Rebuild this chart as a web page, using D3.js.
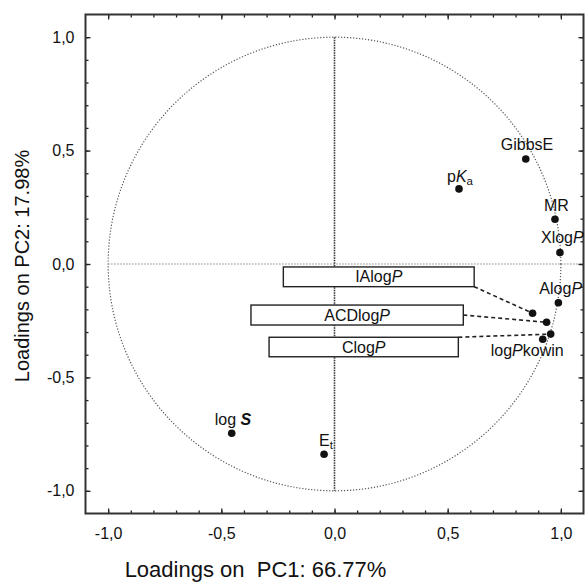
<!DOCTYPE html>
<html>
<head>
<meta charset="utf-8">
<script src="https://cdn.jsdelivr.net/npm/d3@7"></script>
<style>
  html, body { margin: 0; padding: 0; background: #fff; }
  svg { display: block; font-family: "Liberation Sans", Arial, sans-serif; }
</style>
</head>
<body>
<svg id="chart" width="586" height="582"></svg>
<script>
// ---- Data ----
const variables = ["GibbsE", "pKa", "MR", "XlogP", "AlogP", "IAlogP", "ACDlogP", "ClogP", "logPkowin", "logS", "Et"];
const pc1 = [0.845, 0.550, 0.974, 0.996, 0.989, 0.875, 0.937, 0.955, 0.920, -0.454, -0.046];
const pc2 = [0.463, 0.331, 0.197, 0.050, -0.171, -0.217, -0.257, -0.309, -0.332, -0.746, -0.839];
const xTickLabels = ["-1,0", "-0,5", "0,0", "0,5", "1,0"];
const yTickLabels = ["-1,0", "-0,5", "0,0", "0,5", "1,0"];
const xTitle = "Loadings on  PC1: 66.77%";
const yTitle = "Loadings on PC2: 17.98%";

// label rich-text parts: [text, style]  (i = italic, sub = subscript, bi = bold italic)
const labelParts = {
  GibbsE: [["GibbsE", ""]],
  pKa: [["p", ""], ["K", "i"], ["a", "sub"]],
  MR: [["MR", ""]],
  XlogP: [["Xlog", ""], ["P", "i"]],
  AlogP: [["Alog", ""], ["P", "i"]],
  logPkowin: [["log", ""], ["P", "i"], ["kowin", ""]],
  logS: [["log ", ""], ["S", "bi"]],
  Et: [["E", ""], ["t", "sub"]],
  IAlogP: [["IAlog", ""], ["P", "i"]],
  ACDlogP: [["ACDlog", ""], ["P", "i"]],
  ClogP: [["Clog", ""], ["P", "i"]]
};

// ---- Layout ----
const svg = d3.select("#chart");
const L = 85.5, R = 583.5, T = 14.5, B = 513.5;
const x = d3.scaleLinear().domain([-1.1, 1.1]).range([L, R]);
const y = d3.scaleLinear().domain([-1.1, 1.1]).range([B, T]);

// direct label offsets (px, relative to point; text-anchor start)
const labelOffset = {
  GibbsE: [-25, -9], pKa: [-12, -7], MR: [-11, -8], XlogP: [-19, -10],
  AlogP: [-19, -9], logPkowin: [-52, 17], logS: [-17, -8], Et: [-5, -8]
};
// boxed labels: box extents in data units and leader anchor corner
const boxLabels = {
  IAlogP: { x0: -0.226, x1: 0.617, y0: -0.013, y1: -0.100, anchor: "bottom" },
  ACDlogP: { x0: -0.369, x1: 0.569, y0: -0.181, y1: -0.269, anchor: "middle" },
  ClogP: { x0: -0.289, x1: 0.547, y0: -0.323, y1: -0.409, anchor: "top" }
};

// unit circle
svg.append("ellipse")
  .attr("cx", x(0)).attr("cy", y(0))
  .attr("rx", x(1) - x(0)).attr("ry", y(0) - y(1))
  .attr("fill", "none").attr("stroke", "#555").attr("stroke-width", 1.2)
  .attr("stroke-dasharray", "1.2,1.8");

// zero lines
svg.append("line")
  .attr("x1", x(-1)).attr("x2", x(1.1)).attr("y1", y(0)).attr("y2", y(0))
  .attr("stroke", "#888").attr("stroke-width", 1.2).attr("stroke-dasharray", "1.5,1.5");
svg.append("line")
  .attr("x1", x(0)).attr("x2", x(0)).attr("y1", y(1)).attr("y2", y(-1))
  .attr("stroke", "#333").attr("stroke-width", 1.6).attr("stroke-dasharray", "1.5,1");

// axes with inward ticks
const minorTicks = d3.range(-10, 11).map(d => d / 10);
const majorTicks = [-1, -0.5, 0, 0.5, 1];
function tickAxis(axisGen, transform, len, values) {
  const g = svg.append("g").attr("transform", transform)
    .call(axisGen.tickValues(values).tickSize(-len).tickFormat(""));
  g.select(".domain").remove();
  g.selectAll(".tick line").attr("stroke", "#222").attr("stroke-width", 1.3);
  return g;
}
const axisDefs = () => [[d3.axisBottom(x), `translate(0,${B})`], [d3.axisTop(x), `translate(0,${T})`],
 [d3.axisLeft(y), `translate(${L},0)`], [d3.axisRight(y), `translate(${R},0)`]];
axisDefs().forEach(([a, t]) => tickAxis(a, t, 3, minorTicks));
axisDefs().forEach(([a, t]) => tickAxis(a, t, 5, majorTicks));

// tick labels
const xAx = svg.append("g").attr("transform", `translate(0,${B})`)
  .call(d3.axisBottom(x).tickValues(majorTicks).tickSize(0).tickPadding(14)
    .tickFormat((d, i) => xTickLabels[i]));
xAx.select(".domain").remove();
xAx.selectAll("text").attr("font-size", 16).attr("fill", "#111")
  .attr("font-family", "Liberation Sans, Arial, sans-serif");
const yAx = svg.append("g").attr("transform", `translate(${L},0)`)
  .call(d3.axisLeft(y).tickValues(majorTicks).tickSize(0).tickPadding(11)
    .tickFormat((d, i) => yTickLabels[i]));
yAx.select(".domain").remove();
yAx.selectAll("text").attr("font-size", 16).attr("fill", "#111")
  .attr("font-family", "Liberation Sans, Arial, sans-serif");

// frame
svg.append("rect").attr("x", L).attr("y", T).attr("width", R - L).attr("height", B - T)
  .attr("fill", "none").attr("stroke", "#333").attr("stroke-width", 2);

// rich text helper
function richText(sel, parts, size) {
  parts.forEach(([t, s]) => {
    const ts = sel.append("tspan").text(t);
    if (s === "i" || s === "bi") ts.attr("font-style", "italic");
    if (s === "bi") ts.attr("font-weight", "bold");
    if (s === "sub") ts.attr("font-size", size * 0.72).attr("baseline-shift", "-25%");
  });
}

const pts = variables.map((v, i) => ({ v, px: x(pc1[i]), py: y(pc2[i]) }));

// boxes + leader lines
Object.entries(boxLabels).forEach(([name, b]) => {
  const bx0 = x(b.x0), bx1 = x(b.x1), by0 = y(b.y0), by1 = y(b.y1);
  const p = pts.find(d => d.v === name);
  const ay = b.anchor === "bottom" ? by1 : b.anchor === "top" ? by0 : (by0 + by1) / 2;
  svg.append("line").attr("x1", bx1).attr("y1", ay).attr("x2", p.px).attr("y2", p.py)
    .attr("stroke", "#222").attr("stroke-width", 1.6).attr("stroke-dasharray", "4,3");
  svg.append("rect").attr("x", bx0).attr("y", by0).attr("width", bx1 - bx0).attr("height", by1 - by0)
    .attr("fill", "#fff").attr("stroke", "#222").attr("stroke-width", 1.4);
  const t = svg.append("text").attr("x", (bx0 + bx1) / 2).attr("y", (by0 + by1) / 2 + 5.5)
    .attr("text-anchor", "middle").attr("font-size", 16).attr("fill", "#111");
  richText(t, labelParts[name], 16);
});

// points
svg.append("g").selectAll("circle").data(pts).join("circle")
  .attr("cx", d => d.px).attr("cy", d => d.py).attr("r", 3.8).attr("fill", "#111");

// direct labels
Object.entries(labelOffset).forEach(([name, [dx, dy]]) => {
  const p = pts.find(d => d.v === name);
  const t = svg.append("text").attr("x", p.px + dx).attr("y", p.py + dy)
    .attr("font-size", 16).attr("fill", "#111");
  richText(t, labelParts[name], 16);
});

// axis titles
svg.append("text").attr("x", 255.5).attr("y", 577)
  .attr("text-anchor", "middle").attr("font-size", 22).attr("fill", "#111")
  .attr("xml:space", "preserve").style("white-space", "pre").text(xTitle);
svg.append("text").attr("transform", `translate(29,${(T + B) / 2 + 2}) rotate(-90)`)
  .attr("text-anchor", "middle").attr("font-size", 20).attr("fill", "#111").text(yTitle);
</script>
</body>
</html>
